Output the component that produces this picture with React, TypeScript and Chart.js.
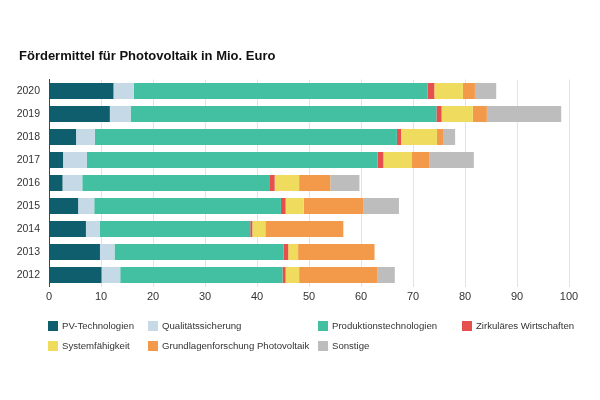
import React, { useEffect, useRef } from "react";
import { Chart, registerables } from "chart.js";

Chart.register(...registerables);

const years = ["2020", "2019", "2018", "2017", "2016", "2015", "2014", "2013", "2012"];
const pvTechnologien = [12.4, 11.7, 5.2, 2.7, 2.6, 5.6, 7.1, 9.8, 10.1];
const qualitaetssicherung = [3.9, 4.0, 3.6, 4.6, 3.8, 3.1, 2.7, 2.8, 3.6];
const produktionstechnologien = [56.5, 58.8, 58.1, 55.9, 36.1, 35.9, 28.9, 32.5, 31.2];
const zirkulaeresWirtschaften = [1.3, 1.0, 0.8, 1.1, 0.9, 0.9, 0.4, 0.9, 0.6];
const systemfaehigkeit = [5.5, 6.0, 6.9, 5.4, 4.7, 3.5, 2.5, 1.9, 2.6];
const grundlagenforschung = [2.3, 2.7, 1.3, 3.5, 6.0, 11.4, 15.0, 14.7, 15.0];
const sonstige = [4.1, 14.3, 2.2, 8.5, 5.6, 6.9, 0, 0, 3.4];
const xTicks = [0, 10, 20, 30, 40, 50, 60, 70, 80, 90, 100];

const seriesNames = [
  "PV-Technologien",
  "Qualitätssicherung",
  "Produktionstechnologien",
  "Zirkuläres Wirtschaften",
  "Systemfähigkeit",
  "Grundlagenforschung Photovoltaik",
  "Sonstige",
];
const seriesData = [
  pvTechnologien,
  qualitaetssicherung,
  produktionstechnologien,
  zirkulaeresWirtschaften,
  systemfaehigkeit,
  grundlagenforschung,
  sonstige,
];
const seriesColors = ["#0f5e6d", "#c6d9e6", "#43bfa1", "#e5504e", "#efdc5f", "#f2994a", "#bdbdbd"];

const FONT = "'Liberation Sans', Arial, Helvetica, sans-serif";

const legendPos = [
  { left: 48, top: 320 },
  { left: 148, top: 320 },
  { left: 318, top: 320 },
  { left: 462, top: 320 },
  { left: 48, top: 340 },
  { left: 148, top: 340 },
  { left: 318, top: 340 },
];

export default function App() {
  const ref = useRef<HTMLCanvasElement | null>(null);

  useEffect(() => {
    if (!ref.current) return;
    const chart = new Chart(ref.current, {
      type: "bar",
      data: {
        labels: years,
        datasets: seriesNames.map((name, i) => ({
          label: name,
          data: seriesData[i],
          backgroundColor: seriesColors[i],
          borderWidth: 0,
          categoryPercentage: 1,
          barPercentage: 0.7,
        })),
      },
      options: {
        indexAxis: "y",
        responsive: false,
        animation: false,
        layout: { padding: { left: 0, right: 31, top: 79.5, bottom: 93.5 } },
        plugins: {
          legend: { display: false },
          tooltip: { enabled: false },
          title: { display: false },
        },
        scales: {
          x: {
            stacked: true,
            min: 0,
            max: 100,
            afterBuildTicks: (scale: any) => {
              scale.ticks = xTicks.map((v) => ({ value: v }));
            },
            afterFit: (scale: any) => {
              scale.height = 20;
            },
            grid: { color: "#e3e3e3", drawTicks: false, lineWidth: 1 },
            border: { display: false },
            ticks: {
              color: "#333",
              padding: 4,
              font: { family: FONT, size: 11 },
            },
          },
          y: {
            stacked: true,
            afterFit: (scale: any) => {
              scale.width = 49;
            },
            grid: { display: false, drawTicks: false },
            border: { display: true, color: "#444", width: 1 },
            ticks: {
              color: "#333",
              padding: 9,
              font: { family: FONT, size: 10.5 },
            },
          },
        },
      },
    });
    return () => chart.destroy();
  }, []);

  return (
    <div
      style={{
        position: "fixed",
        left: 0,
        top: 0,
        width: 600,
        height: 400,
        background: "#fff",
        fontFamily: FONT,
      }}
    >
      <canvas ref={ref} width={600} height={400} style={{ position: "absolute", left: 0, top: 0 }} />
      <div
        style={{
          position: "absolute",
          left: 19,
          top: 48,
          fontSize: 13,
          fontWeight: "bold",
          color: "#111",
          whiteSpace: "nowrap",
        }}
      >
        Fördermittel für Photovoltaik in Mio. Euro
      </div>
      {seriesNames.map((name, i) => (
        <div
          key={name}
          style={{
            position: "absolute",
            left: legendPos[i].left,
            top: legendPos[i].top,
            display: "flex",
            alignItems: "center",
            fontSize: 9.6,
            color: "#333",
            whiteSpace: "nowrap",
          }}
        >
          <span
            style={{
              display: "inline-block",
              width: 10,
              height: 10,
              background: seriesColors[i],
              marginRight: 4,
            }}
          />
          <span>{name}</span>
        </div>
      ))}
    </div>
  );
}
